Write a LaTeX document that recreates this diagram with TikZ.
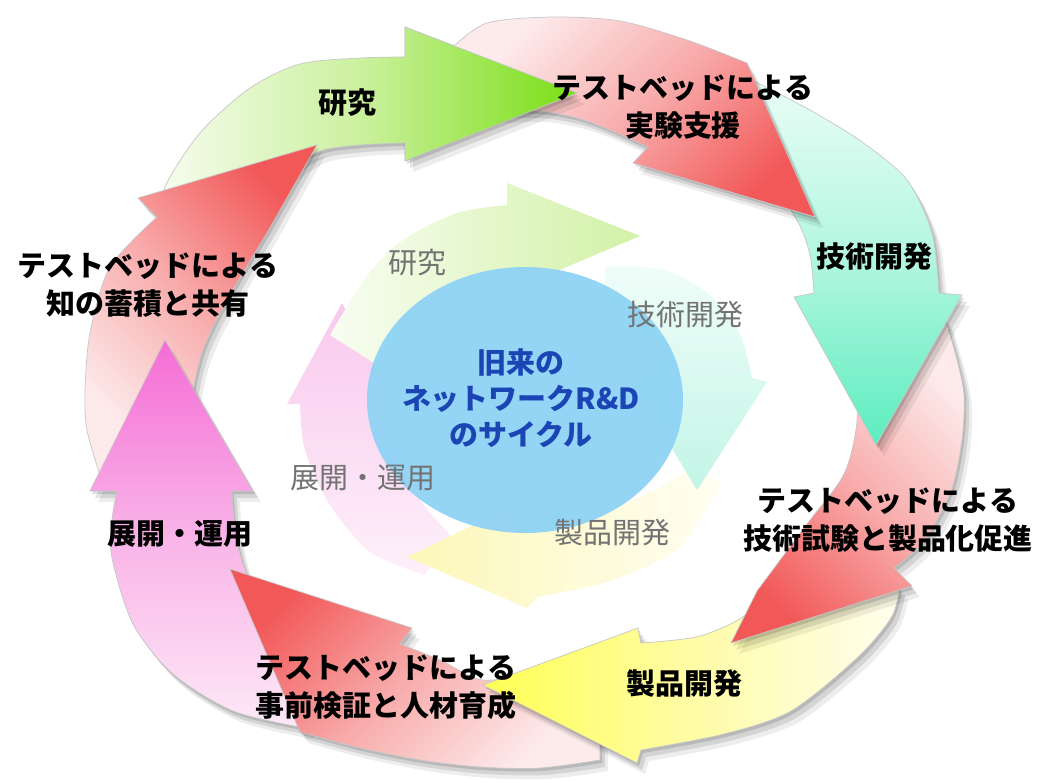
\documentclass[tikz,border=0pt]{standalone}
\usepackage{fontspec}
\newfontfamily\jp{Noto Sans CJK JP}
\definecolor{cGh}{HTML}{78DF14}\definecolor{cGm}{HTML}{C9F09A}\definecolor{cGt}{HTML}{F6FCEE}
\definecolor{cRh}{HTML}{F25858}\definecolor{cRm}{HTML}{F8ABAB}\definecolor{cRt}{HTML}{FDEBEB}
\definecolor{cTh}{HTML}{5CEDBE}\definecolor{cTm}{HTML}{B0F6DF}\definecolor{cTt}{HTML}{EAFDF7}
\definecolor{cYh}{HTML}{FFFF55}\definecolor{cYm}{HTML}{FFFCA6}\definecolor{cYt}{HTML}{FFFEEE}
\definecolor{cPh}{HTML}{F56CD5}\definecolor{cPm}{HTML}{F9B3E8}\definecolor{cPt}{HTML}{FDE9F7}
\definecolor{iGh}{HTML}{D2F1A6}\definecolor{iGt}{HTML}{F8FDF2}
\definecolor{iTh}{HTML}{C2F5E6}\definecolor{iTt}{HTML}{F0FDF9}
\definecolor{iYh}{HTML}{FCF7B8}\definecolor{iYt}{HTML}{FFFEF2}
\definecolor{iPh}{HTML}{F9C9EE}\definecolor{iPt}{HTML}{FDF0FA}
\definecolor{cblue}{HTML}{1B45B5}\definecolor{corefill}{HTML}{8FD3F5}
\newcommand\ShadowArrow[2]{%
  \fill[black,opacity=.07,shift={(8,11)}] #1;
  \fill[black,opacity=.10,shift={(5,7)}] #1;
  \fill[black,opacity=.13,shift={(2,3)}] #1;
  \path[#2] #1;}
\begin{document}
\begin{tikzpicture}[x=0.02cm,y=-0.02cm,
  edgeline/.style={draw=black!22,line width=.4pt},
  arG/.style={edgeline,top color=cGh,bottom color=cGt,middle color=cGm,shading angle=-90},
  arRa/.style={edgeline,top color=cRh,bottom color=cRt,middle color=cRm,shading angle=-135},
  arT/.style={edgeline,top color=cTh,bottom color=cTt,middle color=cTm,shading angle=180},
  arRb/.style={edgeline,top color=cRh,bottom color=cRt,middle color=cRm,shading angle=135},
  arY/.style={edgeline,top color=cYh,bottom color=cYt,middle color=cYm,shading angle=90},
  arRc/.style={edgeline,top color=cRh,bottom color=cRt,middle color=cRm,shading angle=45},
  arP/.style={edgeline,top color=cPh,bottom color=cPt,middle color=cPm,shading angle=0},
  arRd/.style={edgeline,top color=cRh,bottom color=cRt,middle color=cRm,shading angle=-45},
  inG/.style={top color=iGh,bottom color=iGt,shading angle=-90},
  inT/.style={top color=iTh,bottom color=iTt,shading angle=180},
  inY/.style={top color=iYh,bottom color=iYt,shading angle=90},
  inP/.style={top color=iPh,bottom color=iPt,shading angle=0},
  lbl/.style={font=\jp\bfseries\fontsize{16.5}{21.5}\selectfont,align=center,text=black,inner sep=0pt},
  ilbl/.style={font=\jp\fontsize{16.5}{21.5}\selectfont,align=center,text=black!55,inner sep=0pt},
  clbl/.style={font=\jp\bfseries\fontsize{16.5}{20.5}\selectfont,align=center,text=cblue,inner sep=0pt}]
\useasboundingbox (0,0) rectangle (1047,782);
\fill[white] (0,0) rectangle (1047,782);
% ---------- paths ----------
\def\pG{plot[smooth] coordinates {(168,212) (165,187) (200,133) (250,88) (300,64) (360,58) (405,57)} -- (405,27) -- (577,93) -- (405,161) -- plot[smooth] coordinates {(405,143) (360,145) (317,152) (280,178) (258,215) (242,255)} -- cycle}
\def\pRa{plot[smooth] coordinates {(452,48) (487,23) (553,17) (620,21) (687,40) (747,63)} -- (815,217) -- (633,163) -- plot[smooth] coordinates {(648,147) (587,121) (537,111) (482,113)} -- cycle}
\def\pT{plot[smooth] coordinates {(752,80) (810,110) (862,142) (907,180) (932,233) (939,293)} -- (962,295) -- (876,445) -- (794,297) -- plot[smooth] coordinates {(814,293) (810,255) (798,222) (770,182) (725,150)} -- cycle}
\def\pRb{plot[smooth] coordinates {(945,318) (957,360) (964,395) (962,440) (951,491) (924,541) (894,568)} -- (912,586) -- (731,643) -- plot[smooth] coordinates {(757,591) (807,524) (844,474) (857,421) (853,375) (840,318)} -- cycle}
\def\pY{plot[smooth] coordinates {(900,588) (891,618) (857,658) (791,711) (724,734) (641,750)} -- (637,763) -- (483,685) -- (638,628) -- plot[smooth] coordinates {(641,643) (700,636) (750,612) (790,565)} -- cycle}
\def\pRc{plot[smooth] coordinates {(600,760) (540,768) (480,767) (420,760) (360,748) (300,732)} -- (230,569) -- (412,628) -- plot[smooth] coordinates {(400,644) (440,660) (483,680) (540,672) (600,665)} -- cycle}
\def\pP{plot[smooth] coordinates {(305,728) (233,711) (173,674) (133,624) (112,558) (112,520) (117,491)} -- (90,491) -- (165,340) -- (253,491) -- plot[smooth] coordinates {(232,491) (235,530) (246,572) (275,612) (330,640)} -- cycle}
\def\pRd{plot[smooth] coordinates {(100,475) (87,430) (85,391) (90,333) (110,267) (157,217)} -- (138,198) -- (317,145) -- plot[smooth] coordinates {(267,233) (227,300) (203,350) (192,400) (190,460)} -- cycle}
% inner
\def\qG{plot[smooth] coordinates {(330,335) (367,276) (403,240) (457,213) (507,205)} -- (507,183) -- (640,236) -- (507,292) -- plot[smooth] coordinates {(507,272) (450,292) (405,330) (385,370)} -- cycle}
\def\qT{plot[smooth] coordinates {(606,266) (665,270) (712,297) (740,335) (752,378)} -- (767,382) -- (697,490) -- (632,382) -- plot[smooth] coordinates {(645,378) (635,335) (603,300)} -- cycle}
\def\qY{plot[smooth] coordinates {(722,482) (680,547) (613,580) (537,597)} -- (527,608) -- (407,557) -- (515,505) -- plot[smooth] coordinates {(530,512) (620,505) (690,470)} -- cycle}
\def\qP{plot[smooth] coordinates {(425,575) (370,552) (330,505) (305,450) (300,404)} -- (287,404) -- (342,303) -- (397,404) -- plot[smooth] coordinates {(385,404) (392,450) (420,500) (450,535)} -- cycle}
% ---------- inner cycle ----------
\path[inP] \qP;
\path[inY] \qY;
\path[inT] \qT;
\path[inG] \qG;
\fill[corefill,opacity=.95] (525,400) ellipse [x radius=158, y radius=133];
% ---------- outer cycle ----------
\begin{scope}
  \clip (0,0) rectangle (403,782);
  \fill[black,opacity=.07,shift={(8,11)}] \pG;
  \fill[black,opacity=.10,shift={(5,7)}] \pG;
  \fill[black,opacity=.13,shift={(2,3)}] \pG;
\end{scope}
\path[arG] \pG;
\ShadowArrow{\pRd}{arRd}
\ShadowArrow{\pP}{arP}
\ShadowArrow{\pRc}{arRc}
\ShadowArrow{\pY}{arY}
\ShadowArrow{\pRb}{arRb}
\ShadowArrow{\pT}{arT}
\ShadowArrow{\pRa}{arRa}
\begin{scope}
  \clip (403,0) rectangle (620,260);
  \ShadowArrow{\pG}{arG}
\end{scope}
% ---------- labels ----------
\node[lbl] (t1) at (347,103) {研究};
\node[lbl] (t2) at (683,107) {テストベッドによる\\実験支援};
\node[lbl] (t3) at (874,257) {技術開発};
\node[lbl] (t4) at (888,520) {テストベッドによる\\技術試験と製品化促進};
\node[lbl] (t5) at (684,684) {製品開発};
\node[lbl] (t6) at (386,687) {テストベッドによる\\事前検証と人材育成};
\node[lbl] (t7) at (180,534) {展開・運用};
\node[lbl] (t8) at (148,285) {テストベッドによる\\知の蓄積と共有};
\node[ilbl] (i1) at (417,263) {研究};
\node[ilbl] (i2) at (685,315) {技術開発};
\node[ilbl] (i3) at (612,533) {製品開発};
\node[ilbl] (i4) at (363,478) {展開・運用};
\node[clbl] (core) at (521,398) {旧来の\\ネットワークR\&D\\のサイクル};
\end{tikzpicture}
\end{document}
